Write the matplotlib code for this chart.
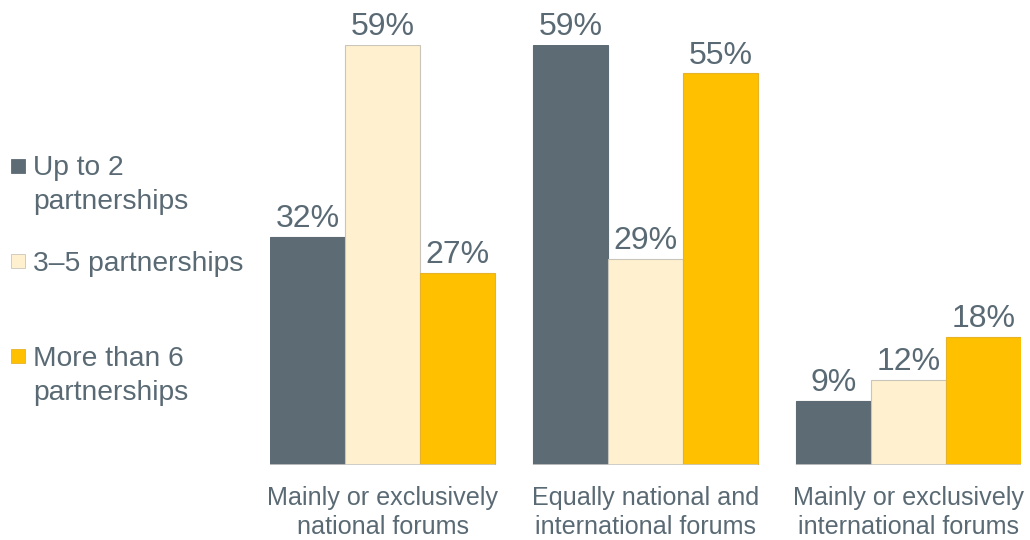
import numpy as np
import matplotlib
matplotlib.use("Agg")
import matplotlib.pyplot as plt
from matplotlib.patches import Rectangle

plt.rcParams['font.family'] = ['Liberation Sans', 'DejaVu Sans']

categories = ["Mainly or exclusively\nnational forums",
              "Equally national and\ninternational forums",
              "Mainly or exclusively\ninternational forums"]
series_names = ["Up to 2\npartnerships", "3\u20135 partnerships", "More than 6\npartnerships"]
series_values = [
    [32, 59, 9],   # Up to 2 partnerships
    [59, 29, 12],  # 3-5 partnerships
    [27, 55, 18],  # More than 6 partnerships
]
colors = ["#5D6B75", "#FFF1CF", "#FFC000"]
edges = ["#5D6B75", "#C9C5BA", "#E6B22A"]
text_color = "#5A6A74"

fig = plt.figure(figsize=(10.30, 5.40), dpi=100)
ax = fig.add_axes([270 / 1030, 75 / 540, 751 / 1030, 420 / 540])

n_series = len(series_values)
group_step = n_series + 0.5
group_x = np.arange(len(categories)) * group_step

for i, (vals, name) in enumerate(zip(series_values, series_names)):
    xs = group_x + i
    ax.bar(xs, vals, width=1.0, color=colors[i], edgecolor=edges[i],
           linewidth=0.8, label=name, zorder=2)
    for x, v in zip(xs, vals):
        ax.annotate(f"{v}%", (x, v), xytext=(0, 2), textcoords="offset points",
                    ha="center", va="bottom", fontsize=23, color=text_color)

# baseline under each group
for gx in group_x:
    ax.hlines(0, gx - 0.5, gx + n_series - 0.5, color="#C8C8C8", lw=1.2, zorder=3)

ax.set_xlim(-0.5, group_x[-1] + n_series - 0.5)
ax.set_ylim(0, 59)
ax.set_xticks(group_x + (n_series - 1) / 2)
ax.set_xticklabels(categories, fontsize=18.1, color=text_color, linespacing=1.27)
ax.tick_params(axis="x", length=0, pad=15)
ax.set_yticks([])
for s in ax.spines.values():
    s.set_visible(False)

# legend drawn on the left side of the figure
legend_tops = [155, 251, 346]
marker_tops = [159, 254, 349]
for i, name in enumerate(series_names):
    fig.patches.append(Rectangle((11 / 1030, 1 - (marker_tops[i] + 14) / 540), 14 / 1030, 14 / 540,
                                 transform=fig.transFigure, facecolor=colors[i],
                                 edgecolor=edges[i], linewidth=0.6))
    fig.text(33 / 1030, 1 - legend_tops[i] / 540, name, ha="left", va="top", fontsize=20.3,
             color=text_color, linespacing=1.4)

fig.savefig("out.png", dpi=100, facecolor="white")
